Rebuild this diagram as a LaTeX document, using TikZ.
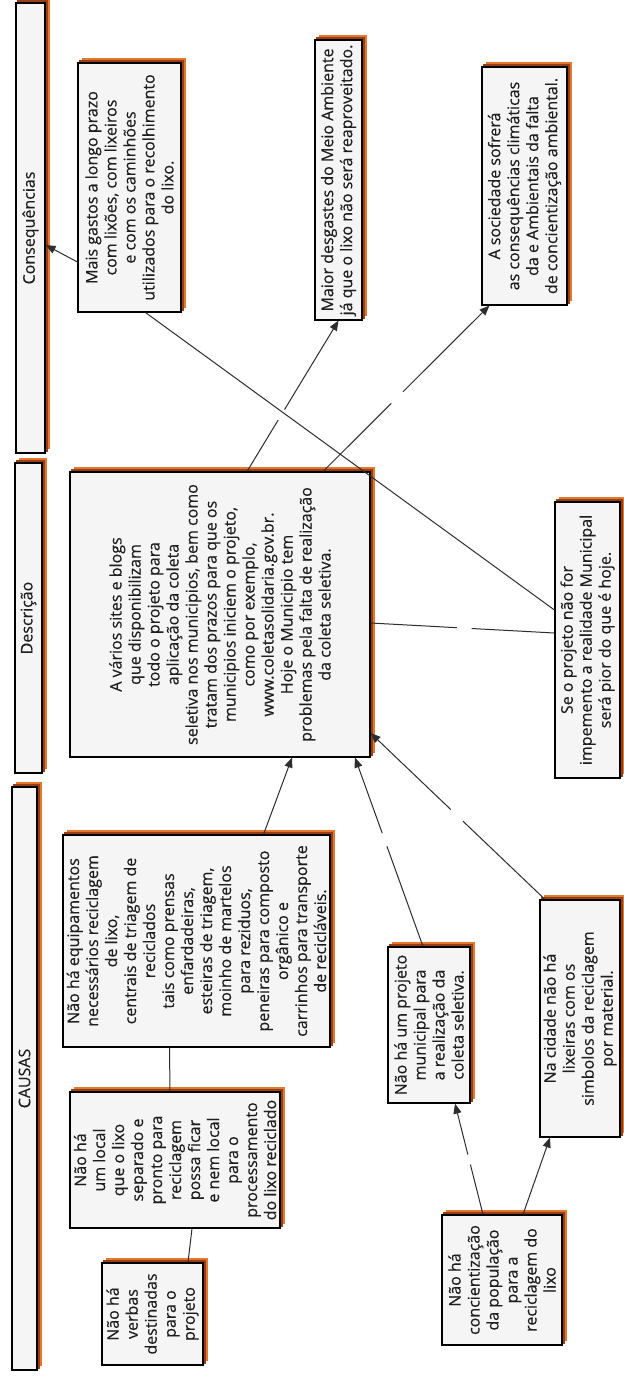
\documentclass[tikz,border=0pt]{standalone}
\usepackage{fontspec}
\setmainfont{Open Sans}[BoldFont={Open Sans},BoldFeatures={FakeBold=0.35}]
\usetikzlibrary{arrows.meta,calc}
\definecolor{boxfill}{RGB}{245,245,245}
\definecolor{shadoworange}{RGB}{228,120,44}
\definecolor{shadowbrown}{RGB}{150,62,20}
\definecolor{txt}{RGB}{30,30,30}
\definecolor{linec}{RGB}{45,45,45}
\pgfdeclarelayer{paper}
\pgfdeclarelayer{shadow}
\pgfsetlayers{paper,shadow,main}
\tikzset{
  cbox/.style={draw=black, line width=1.1pt, fill=boxfill, rotate=90, align=center,
    inner sep=0pt, text=txt, font=\fontsize{16}{19}\selectfont\bfseries},
  conn/.style={draw=linec, line width=1pt},
  arr/.style={conn, -{Triangle[length=10pt,width=8pt]}},
}
\newcommand\cmbox[6]{%
  \node[cbox, minimum width={(#5-#3)*1pt}, minimum height={(#4-#2)*1pt}] (#1) at ({(#2+#4)/2},{(#3+#5)/2}) {#6};
  \begin{pgfonlayer}{shadow}
    \fill[shadoworange] ([shift={(4.5,-4.5)}]#1.south west) rectangle ([shift={(4.5,-4.5)}]#1.north east);
    \fill[shadowbrown] ([shift={(2,-2)}]#1.south west) rectangle ([shift={(2,-2)}]#1.north east);
  \end{pgfonlayer}}
% connector with an empty linking-phrase gap: from, to, gap start, gap end, style
\newcommand\gapline[5]{%
  \draw[conn] (#1) -- ($(#1)!#3!(#2)$);
  \draw[#5] ($(#1)!#4!(#2)$) -- (#2);}
\begin{document}
\begin{tikzpicture}[x=1pt,y=-1pt]
\begin{pgfonlayer}{paper}
\fill[white] (0,0) rectangle (624,1382);
\end{pgfonlayer}
\useasboundingbox (0,0) rectangle (624,1382);
% header bars
\cmbox{cons}{16}{3}{45}{453}{Consequências}
\cmbox{desc}{15}{463}{42}{773}{Descrição}
\cmbox{caus}{12}{787}{37}{1370}{CAUSAS}
% consequences
\cmbox{c1}{78}{63}{181}{312}{Mais gastos a longo prazo\\com lixões, com lixeiros\\e com os caminhões\\utilizados para o recolhimento\\do lixo.}
\cmbox{c2}{315}{40}{362}{320}{Maior desgastes do Meio Ambiente\\já que o lixo não será reaproveitado.}
\cmbox{c3}{482}{67}{567}{305}{A sociedade sofrerá\\as consequências climáticas\\da e Ambientais da falta\\de concientização ambiental.}
% description
\cmbox{d}{70}{472}{370}{757}{A vários sites e blogs\\que disponibilizam\\todo o projeto para\\aplicação da coleta\\seletiva nos municipios, bem como\\tratam dos prazos para que os\\municipios iniciem o projeto,\\como por exemplo,\\www.coletasolidaria.gov.br.\\Hoje o Municipio tem\\problemas pela falta de realização\\da coleta seletiva.}
\cmbox{s}{555}{502}{620}{778}{Se o projeto não for\\impemento a realidade Municipal\\será pior do que é hoje.}
% causes
\cmbox{k1}{63}{835}{330}{1047}{Não há equipamentos\\necessários reciclagem\\de lixo,\\centrais de triagem de\\reciclados\\tais como prensas\\enfardadeiras,\\esteiras de triagem,\\moinho de martelos\\para reziduos,\\peneiras para composto\\orgânico e\\carrinhos para transporte\\de recicláveis.}
\cmbox{k2}{70}{1092}{280}{1228}{Não há\\um local\\que o lixo\\separado e\\pronto para\\reciclagem\\possa ficar\\e nem local\\para o\\processamento\\do lixo reciclado}
\cmbox{v}{102}{1263}{203}{1365}{Não há\\verbas\\destinadas\\para o\\projeto}
\cmbox{k3}{388}{947}{470}{1103}{Não há um projeto\\municipal para\\a realização da\\coleta seletiva.}
\cmbox{k4}{540}{900}{620}{1137}{Na cidade não há\\lixeiras com os\\simbolos da reciclagem\\por material.}
\cmbox{k5}{442}{1215}{562}{1345}{Não há\\concientização\\da população\\para a\\reciclagem do\\lixo}
% connector end points
\coordinate (c1out) at ([yshift=-74.5pt]c1.north);
\coordinate (consin) at ([yshift=-17pt]cons.south);
\coordinate (dtopa) at ([xshift=27pt]d.east);
\coordinate (dtopb) at ([xshift=103pt]d.east);
\coordinate (c3in) at ([xshift=8pt]c3.north west);
\coordinate (sa) at ([yshift=7pt]s.north);
\coordinate (sb) at ([yshift=30pt]s.north);
\coordinate (dright) at ([yshift=-8.5pt]d.south);
\coordinate (c1bot) at ([xshift=16pt]c1.west);
\coordinate (k1top) at ([xshift=67pt]k1.east);
\coordinate (dbota) at ([xshift=72pt]d.west);
\coordinate (k3top) at ([xshift=-6pt]k3.east);
\coordinate (dbotb) at ([xshift=135pt]d.west);
\coordinate (k4top) at ([xshift=-35pt]k4.east);
\coordinate (drightb) at ([yshift=-118.5pt]d.south);
\coordinate (k5a) at ([xshift=-19pt]k5.east);
\coordinate (k5b) at ([xshift=21pt]k5.east);
\coordinate (k3bot) at ([xshift=26pt]k3.west);
\coordinate (k4bot) at ([xshift=-30pt]k4.west);
% connectors
\draw[arr] (c1out) -- (consin);
\gapline{dtopa}{c2.west}{0.34}{0.41}{arr}
\gapline{dtopb}{c3in}{0.41}{0.48}{arr}
\gapline{sa}{dright}{0.45}{0.53}{conn}
\draw[conn] (sb) -- (c1bot);
\draw[arr] (k1top) -- (dbota);
\gapline{k3top}{dbotb}{0.53}{0.60}{arr}
\gapline{k4top}{drightb}{0.47}{0.54}{arr}
\gapline{k5a}{k3bot}{0.45}{0.54}{arr}
\draw[arr] (k5b) -- (k4bot);
\draw[conn] ([xshift=-27pt]k1.west) -- ([xshift=-5pt]k2.east);
\draw[conn] ([xshift=17pt]k2.west) -- ([xshift=35.5pt]v.east);
\end{tikzpicture}
\end{document}
